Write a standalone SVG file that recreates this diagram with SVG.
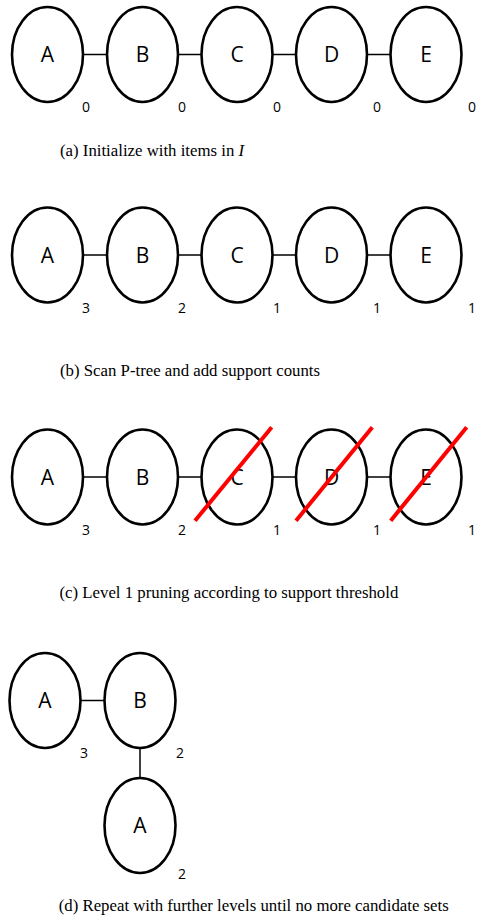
<svg xmlns="http://www.w3.org/2000/svg" width="477" height="918" viewBox="0 0 477 918">
  <style>
    .node { fill: #ffffff; stroke: #000000; stroke-width: 2.6; }
    .link { stroke: #000000; stroke-width: 1.5; fill: none; }
    .name { font-family: "Open Sans", "Noto Sans", sans-serif; font-size: 21px; fill: #000000; text-anchor: middle; }
    .count { font-family: "Open Sans", "Noto Sans", sans-serif; font-size: 14px; fill: #000000; text-anchor: middle; }
    .caption { font-family: "Liberation Serif", "Times New Roman", serif; font-size: 16.8px; fill: #000000; }
    .strike { stroke: #ff0000; stroke-width: 4; stroke-linecap: butt; }
  </style>

  <!-- (a) initial item list -->
  <g id="connectors-a">
    <line class="link" x1="83" y1="54.5" x2="107" y2="54.5"/>
    <line class="link" x1="178" y1="54.5" x2="201.5" y2="54.5"/>
    <line class="link" x1="272.5" y1="54.5" x2="296" y2="54.5"/>
    <line class="link" x1="367" y1="54.5" x2="390.5" y2="54.5"/>
  </g>
  <g id="a-A"><ellipse class="node" cx="47.5" cy="54.5" rx="35.5" ry="47.5"/><text class="name" x="47.5" y="62">A</text><text class="count" x="86" y="112">0</text></g>
  <g id="a-B"><ellipse class="node" cx="142.5" cy="54.5" rx="35.5" ry="47.5"/><text class="name" x="142.5" y="62">B</text><text class="count" x="182" y="112">0</text></g>
  <g id="a-C"><ellipse class="node" cx="237" cy="54.5" rx="35.5" ry="47.5"/><text class="name" x="237" y="62">C</text><text class="count" x="277" y="112">0</text></g>
  <g id="a-D"><ellipse class="node" cx="331.5" cy="54.5" rx="35.5" ry="47.5"/><text class="name" x="331.5" y="62">D</text><text class="count" x="377" y="112">0</text></g>
  <g id="a-E"><ellipse class="node" cx="426" cy="54.5" rx="35.5" ry="47.5"/><text class="name" x="426" y="62">E</text><text class="count" x="472" y="112">0</text></g>
  <text class="caption" x="60" y="155.5">(a) Initialize with items in <tspan font-style="italic">I</tspan></text>

  <!-- (b) support counts -->
  <g id="connectors-b">
    <line class="link" x1="83" y1="255" x2="107" y2="255"/>
    <line class="link" x1="178" y1="255" x2="201.5" y2="255"/>
    <line class="link" x1="272.5" y1="255" x2="296" y2="255"/>
    <line class="link" x1="367" y1="255" x2="390.5" y2="255"/>
  </g>
  <g id="b-A"><ellipse class="node" cx="47.5" cy="255" rx="35.5" ry="47.5"/><text class="name" x="47.5" y="262.5">A</text><text class="count" x="86" y="312.5">3</text></g>
  <g id="b-B"><ellipse class="node" cx="142.5" cy="255" rx="35.5" ry="47.5"/><text class="name" x="142.5" y="262.5">B</text><text class="count" x="182" y="312.5">2</text></g>
  <g id="b-C"><ellipse class="node" cx="237" cy="255" rx="35.5" ry="47.5"/><text class="name" x="237" y="262.5">C</text><text class="count" x="277" y="312.5">1</text></g>
  <g id="b-D"><ellipse class="node" cx="331.5" cy="255" rx="35.5" ry="47.5"/><text class="name" x="331.5" y="262.5">D</text><text class="count" x="377" y="312.5">1</text></g>
  <g id="b-E"><ellipse class="node" cx="426" cy="255" rx="35.5" ry="47.5"/><text class="name" x="426" y="262.5">E</text><text class="count" x="472" y="312.5">1</text></g>
  <text class="caption" x="60" y="375.5">(b) Scan P-tree and add support counts</text>

  <!-- (c) level 1 pruning -->
  <g id="connectors-c">
    <line class="link" x1="83" y1="477" x2="107" y2="477"/>
    <line class="link" x1="178" y1="477" x2="201.5" y2="477"/>
    <line class="link" x1="272.5" y1="477" x2="296" y2="477"/>
    <line class="link" x1="367" y1="477" x2="390.5" y2="477"/>
  </g>
  <g id="c-A"><ellipse class="node" cx="47.5" cy="477" rx="35.5" ry="47.5"/><text class="name" x="47.5" y="484.5">A</text><text class="count" x="86" y="535">3</text></g>
  <g id="c-B"><ellipse class="node" cx="142.5" cy="477" rx="35.5" ry="47.5"/><text class="name" x="142.5" y="484.5">B</text><text class="count" x="182" y="535">2</text></g>
  <g id="c-C"><ellipse class="node" cx="237" cy="477" rx="35.5" ry="47.5"/><text class="name" x="237" y="484.5">C</text><text class="count" x="277" y="535">1</text><line class="strike" x1="195" y1="520.7" x2="271.7" y2="427.3"/></g>
  <g id="c-D"><ellipse class="node" cx="331.5" cy="477" rx="35.5" ry="47.5"/><text class="name" x="331.5" y="484.5">D</text><text class="count" x="377" y="535">1</text><line class="strike" x1="296" y1="520.7" x2="372.3" y2="427.3"/></g>
  <g id="c-E"><ellipse class="node" cx="426" cy="477" rx="35.5" ry="47.5"/><text class="name" x="426" y="484.5">E</text><text class="count" x="472" y="535">1</text><line class="strike" x1="390.7" y1="520.7" x2="466.7" y2="427.3"/></g>
  <text class="caption" x="59.5" y="597.5">(c) Level 1 pruning according to support threshold</text>

  <!-- (d) further levels -->
  <g id="connectors-d">
    <line class="link" x1="81" y1="700.5" x2="104" y2="700.5"/>
    <line class="link" x1="140" y1="748" x2="140" y2="778"/>
  </g>
  <g id="d-A"><ellipse class="node" cx="45" cy="700.5" rx="35.5" ry="47.5"/><text class="name" x="45" y="708">A</text><text class="count" x="84" y="758">3</text></g>
  <g id="d-B"><ellipse class="node" cx="140" cy="700.5" rx="35.5" ry="47.5"/><text class="name" x="140" y="708">B</text><text class="count" x="180" y="758">2</text></g>
  <g id="d-BA"><ellipse class="node" cx="140" cy="825.5" rx="35.5" ry="47.5"/><text class="name" x="140" y="833">A</text><text class="count" x="182" y="879">2</text></g>
  <text class="caption" x="58.7" y="910.5">(d) Repeat with further levels until no more candidate sets</text>
</svg>
